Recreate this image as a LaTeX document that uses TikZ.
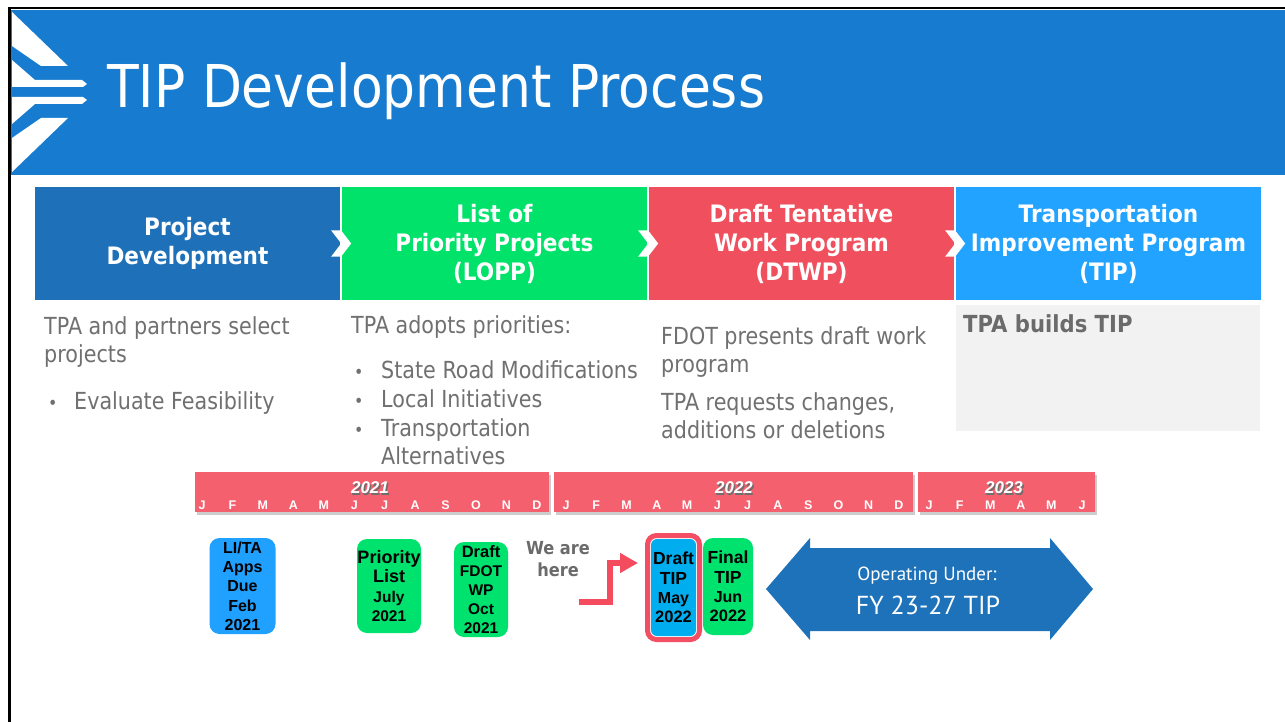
\documentclass[tikz,border=0pt]{standalone}
\usepackage{fontspec}
\setmainfont{DejaVu Sans}
\newfontfamily\tah[FakeStretch=0.88]{DejaVu Sans}
\newfontfamily\tahB[FakeStretch=0.9]{DejaVu Sans}
\newfontfamily\ari{Liberation Sans}
\newfontfamily\pts{PT Sans}
\usetikzlibrary{arrows.meta}
\newcommand\fsz[1]{\fontsize{#1}{#1}\selectfont}
\definecolor{hdr}{RGB}{23,124,207}
\definecolor{cA}{RGB}{30,113,184}
\definecolor{cB}{RGB}{0,226,106}
\definecolor{cC}{RGB}{240,80,94}
\definecolor{cD}{RGB}{33,163,255}
\definecolor{panel}{RGB}{242,242,242}
\definecolor{bodygray}{RGB}{112,112,112}
\definecolor{boldgray}{RGB}{107,107,107}
\definecolor{barred}{RGB}{245,96,110}
\definecolor{barshadow}{RGB}{205,205,205}
\definecolor{yrshadow}{RGB}{110,110,110}
\definecolor{msblue}{RGB}{33,161,255}
\definecolor{tipblue}{RGB}{0,174,239}
\definecolor{msgreen}{RGB}{0,226,110}
\definecolor{hlred}{RGB}{243,78,100}
\definecolor{pinkarr}{RGB}{245,75,95}
\definecolor{bigblue}{RGB}{30,114,185}
\begin{document}
\begin{tikzpicture}[x=1pt,y=-1pt,
  stagebox/.style={inner sep=0, minimum width=305pt, minimum height=113pt, text=white,
    font=\tahB\bfseries\fontsize{24}{29}\selectfont, align=center},
  body/.style={text=bodygray, font=\tah\fontsize{23.5}{29}\selectfont, anchor=base west, inner sep=0},
  bul/.style={text=bodygray, font=\tah\fontsize{18}{18}\selectfont, anchor=base west, inner sep=0},
  mon/.style={text=white, font=\ari\bfseries\fontsize{12.5}{12.5}\selectfont, inner sep=0},
  yr/.style={text=white, font=\ari\bfseries\itshape\fontsize{17}{17}\selectfont, inner sep=0},
  yrsh/.style={text=yrshadow, font=\ari\bfseries\itshape\fontsize{17}{17}\selectfont, inner sep=0},
  ms/.style={rounded corners=10pt, inner sep=0, align=center, text=black,
    font=\ari\bfseries\fontsize{16}{19.3}\selectfont}
]
\useasboundingbox (0,0) rectangle (1285,722);
\fill[white] (0,0) rectangle (1285,722);
% frame and header
\fill[hdr] (11,10) rectangle (1285,175);
\draw[black, line width=2.5pt] (9.5,722) -- (9.5,8) -- (1285,8);
% logo
\fill[white] (12,12) -- (68,66) -- (41,66) -- (12,46) -- cycle;
\fill[white] (12,60) -- (35,80) -- (82,80) -- (87,84) -- (83,87) -- (12,87) -- cycle;
\fill[white] (12,124) -- (35,104) -- (82,104) -- (87,100) -- (83,97) -- (12,97) -- cycle;
\fill[white] (12,172) -- (68,118) -- (41,118) -- (12,138) -- cycle;
\node[anchor=base west, text=white, font=\tah\fontsize{59}{59}\selectfont, inner sep=0] (title) at (107,108) {TIP Development Process};
% stage boxes
\node[stagebox, fill=cA] (s1) at (187.5,243.5) {Project\\Development};
\node[stagebox, fill=cB] (s2) at (494.5,243.5) {List of\\Priority Projects\\(LOPP)};
\node[stagebox, fill=cC] (s3) at (801.5,243.5) {Draft Tentative\\Work Program\\(DTWP)};
\node[stagebox, fill=cD] (s4) at (1108.5,243.5) {Transportation\\Improvement Program\\(TIP)};
\foreach \s in {s1,s2,s3}{
  \fill[white, shift={(\s.east)}] (-9,-13) -- (1,-13) -- (11,0) -- (1,13) -- (-9,13) -- (1,0) -- cycle;
}
% body texts
\node[body] (t1a) at (44,334) {TPA and partners select};
\node[body] (t1b) at (44,362) {projects};
\node[bul] (t1d) at (48,409) {•};
\node[body] (t1c) at (74,409) {Evaluate Feasibility};
\node[body] (t2a) at (351,333) {TPA adopts priorities:};
\node[bul] (t2d1) at (354,378) {•};
\node[body] (t2b) at (381,378) {State Road Modifications};
\node[bul] (t2d2) at (354,407) {•};
\node[body] (t2c) at (381,407) {Local Initiatives};
\node[bul] (t2d3) at (354,436) {•};
\node[body] (t2e) at (381,436) {Transportation};
\node[body] (t2f) at (381,464) {Alternatives};
\node[body] (t3a) at (661,344) {FDOT presents draft work};
\node[body] (t3b) at (661,372) {program};
\node[body] (t3c) at (661,410) {TPA requests changes,};
\node[body] (t3d) at (661,438) {additions or deletions};
\fill[panel] (956,305) rectangle (1260,431);
\node[body, text=boldgray, font=\tahB\bfseries\fontsize{23.5}{29}\selectfont] (t4a) at (963,332) {TPA builds TIP};
% timeline bars
\fill[barshadow] (197,475) rectangle (551,515);
\fill[barshadow] (556,475) rectangle (915,515);
\fill[barshadow] (920,475) rectangle (1097,515);
\fill[barred] (195,472) rectangle (549,512);
\fill[barred] (554,472) rectangle (913,512);
\fill[barred] (918,472) rectangle (1095,512);
\node[yrsh] at (371.3,489.3) {2021};
\node[yr] (y21) at (370,488) {2021};
\node[yrsh] at (735.3,489.3) {2022};
\node[yr] (y22) at (734,488) {2022};
\node[yrsh] at (1005.3,489.3) {2023};
\node[yr] (y23) at (1004,488) {2023};
\foreach \m [count=\i from 0] in {J,F,M,A,M,J,J,A,S,O,N,D}{
  \node[mon] (ma\i) at (202+30.45*\i,505) {\m};
  \node[mon] (mb\i) at (566+30.27*\i,505) {\m};
}
\foreach \m [count=\i from 0] in {J,F,M,A,M,J}{
  \node[mon] (mc\i) at (929+30.6*\i,505) {\m};
}
% milestones
\node[ms, fill=msblue, minimum width=66pt, minimum height=96pt] (lita) at (242.5,586) {LI/TA\\Apps\\Due\\Feb\\2021};
\node[ms, fill=msgreen, minimum width=64pt, minimum height=94pt, font=\ari\bfseries\fontsize{15.5}{19.5}\selectfont] (prio) at (389,586) {{\fsz{18}Priority}\\{\fsz{18}List}\\July\\2021};
\node[ms, fill=msgreen, minimum width=54pt, minimum height=95pt, font=\ari\bfseries\fontsize{15.5}{18.8}\selectfont] (fdot) at (481,589.5) {{\fsz{16.5}Draft}\\FDOT\\WP\\Oct\\2021};
\node[draw=hlred, line width=5pt, rounded corners=9pt, minimum width=52pt, minimum height=104pt, inner sep=0] (here) at (673.5,587.5) {};
\node[ms, fill=tipblue, rounded corners=6pt, minimum width=45pt, minimum height=97pt] (dtip) at (673.5,587.5) {{\fsz{17.5}Draft}\\{\fsz{17.5}TIP}\\May\\{\fsz{16.5}2022}};
\node[ms, fill=msgreen, minimum width=50pt, minimum height=97pt] (ftip) at (728,586.5) {{\fsz{17.5}Final}\\{\fsz{17.5}TIP}\\Jun\\{\fsz{16.5}2022}};
% we are here
\node[text=boldgray, font=\tahB\bfseries\fontsize{18}{22}\selectfont, align=center, inner sep=0] (wah) at (558,559) {We are\\here};
\coordinate (astart) at (579,602);
\coordinate (atip) at (638,563);
\draw[pinkarr, line width=6pt, -{Triangle[length=18pt,width=19pt]}] (astart) -| (610,563) -- (atip);
% operating arrow
\fill[bigblue] (766,589) -- (810,538) -- (810,548) -- (1050,548) -- (1050,538) -- (1093,589) -- (1050,640) -- (1050,631) -- (810,631) -- (810,640) -- cycle;
\node[anchor=base, text=white, font=\pts\fontsize{19}{19}\selectfont, inner sep=0] (op1) at (927,580) {Operating Under:};
\node[anchor=base, text=white, font=\pts\fontsize{26}{26}\selectfont, inner sep=0] (op2) at (928,614.5) {FY 23-27 TIP};
\end{tikzpicture}
\end{document}
